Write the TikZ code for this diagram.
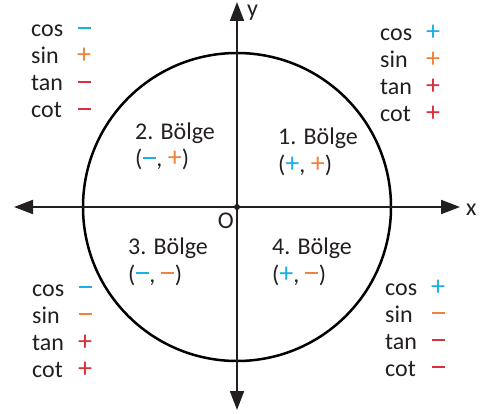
\documentclass[tikz,border=0pt]{standalone}
\usepackage{fontspec}
\setmainfont{Carlito}
\usepackage{xcolor}
\usetikzlibrary{arrows.meta}

\definecolor{sgncyan}{HTML}{1AAFE6}
\definecolor{sgnorange}{HTML}{F0823C}
\definecolor{sgnred}{HTML}{D9303A}
\definecolor{inkgray}{HTML}{231F20}

\newcommand{\sgnp}[1]{\textcolor{#1}{\fontsize{28}{28}\selectfont +}}
\newcommand{\sgnm}[1]{\textcolor{#1}{\fontsize{28}{28}\selectfont
  \makebox[0.5em]{\rule[\dimexpr\fontcharht\font`−-1.8pt\relax]{13pt}{1.8pt}}}}

\begin{document}
\begin{tikzpicture}[
  x=1pt, y=-1pt,
  >={Triangle[length=19pt,width=14pt]},
  axis/.style={->, line width=2pt, draw=inkgray},
  legend/.style={anchor=base west, inner sep=0pt, text=inkgray,
                 font=\fontsize{24}{27}\selectfont},
  zone/.style={anchor=base west, inner sep=0pt, align=left, text=inkgray,
               font=\fontsize{24}{28}\selectfont},
]
\useasboundingbox (0,0) rectangle (489,414);
%% Axes and unit circle
\coordinate (O) at (237,207);
\coordinate (xl) at (14,207);
\coordinate (xr) at (460,207);
\coordinate (yb) at (237,410);
\coordinate (yt) at (237,2);
\draw[line width=2.5pt] (O) circle[radius=154];
\draw[axis] (O) -- (xl);
\draw[axis] (O) -- (xr);
\draw[axis] (O) -- (yb);
\draw[axis] (O) -- (yt);
\fill[inkgray] (O) circle[radius=3];
\node[legend, anchor=base east] (olab) at (234,228) {O};
\node[legend] (xlab) at (466,215) {x};
\node[legend] (ylab) at (247,17) {y};
%% Quadrant names (anchor is the second line)
\node[zone] (q1) at (278,172) {1. Bölge\\(\sgnp{sgncyan}, \sgnp{sgnorange})};
\node[zone] (q2) at (135,167) {2. Bölge\\(\sgnm{sgncyan}, \sgnp{sgnorange})};
\node[zone] (q3) at (128,282) {3. Bölge\\(\sgnm{sgncyan}, \sgnm{sgnorange})};
\node[zone] (q4) at (272,282) {4. Bölge\\(\sgnp{sgncyan}, \sgnm{sgnorange})};
%% Sign tables
\node[legend] (t2) at (31,37) {\begin{tabular}[t]{@{}l@{\hspace{14pt}}c@{}}
  cos & \sgnm{sgncyan}\\ sin & \sgnp{sgnorange}\\
  tan & \sgnm{sgnred}\\ cot & \sgnm{sgnred}\end{tabular}};
\node[legend] (t1) at (380,41) {\begin{tabular}[t]{@{}l@{\hspace{14pt}}c@{}}
  cos & \sgnp{sgncyan}\\ sin & \sgnp{sgnorange}\\
  tan & \sgnp{sgnred}\\ cot & \sgnp{sgnred}\end{tabular}};
\node[legend] (t3) at (32,296) {\begin{tabular}[t]{@{}l@{\hspace{14pt}}c@{}}
  cos & \sgnm{sgncyan}\\ sin & \sgnm{sgnorange}\\
  tan & \sgnp{sgnred}\\ cot & \sgnp{sgnred}\end{tabular}};
\node[legend] (t4) at (385,295) {\begin{tabular}[t]{@{}l@{\hspace{14pt}}c@{}}
  cos & \sgnp{sgncyan}\\ sin & \sgnm{sgnorange}\\
  tan & \sgnm{sgnred}\\ cot & \sgnm{sgnred}\end{tabular}};
\end{tikzpicture}
\end{document}
